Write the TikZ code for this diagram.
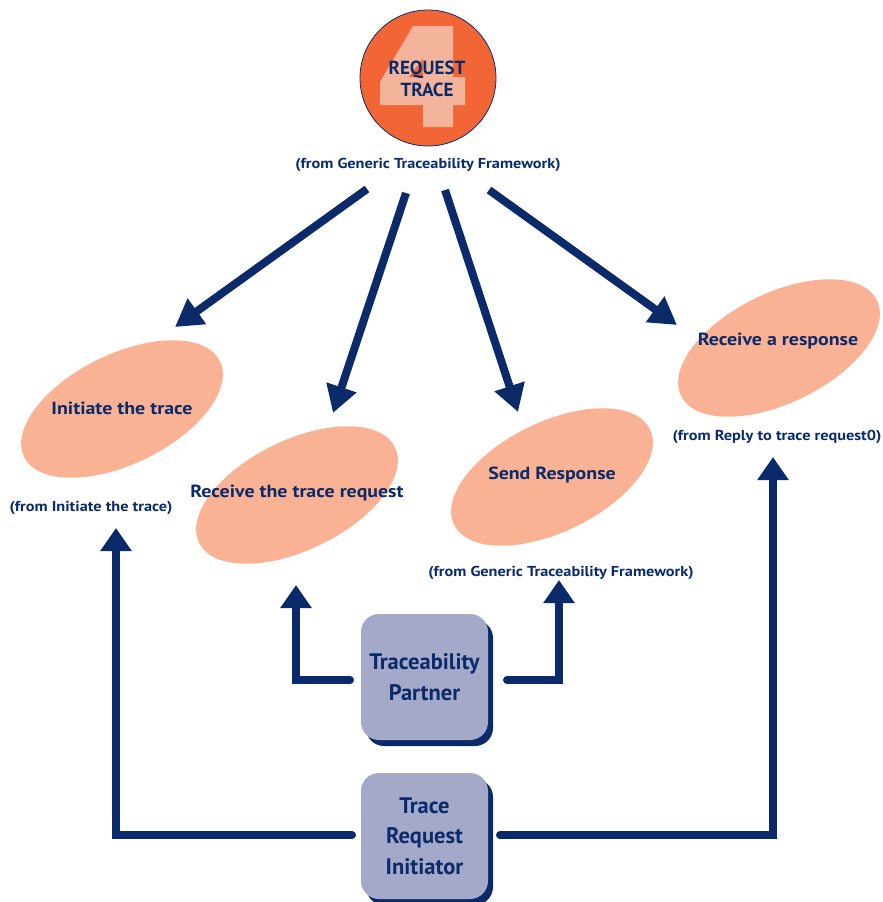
\documentclass[tikz,border=0pt]{standalone}
\usepackage{fontspec}
\setmainfont{PT Sans}
\newfontfamily\widesans{PT Sans}[FakeStretch=1.13]
\usetikzlibrary{arrows.meta,shapes.geometric,shadows}

\definecolor{navy}{HTML}{0A2A6A}
\definecolor{disc}{HTML}{F26535}
\definecolor{digit}{HTML}{F4B39B}
\definecolor{blobfill}{HTML}{F9B394}
\definecolor{actorfill}{HTML}{A4A9C9}

\begin{document}
\begin{tikzpicture}[x=1pt,y=-1pt,
  blob/.style={ellipse, fill=blobfill, draw=none, minimum width=218pt,
    minimum height=110pt, inner sep=0pt, rotate=26},
  blobtext/.style={text=navy, inner sep=0pt,
    font=\widesans\bfseries\fontsize{17.6}{20}\selectfont},
  note/.style={text=navy, inner sep=0pt,
    font=\widesans\bfseries\fontsize{14.4}{16}\selectfont},
  actor/.style={rounded corners=18pt, fill=actorfill, minimum width=127pt,
    minimum height=126pt, inner sep=0pt, text=navy, align=center,
    font=\bfseries\fontsize{22.5}{30.5}\selectfont,
    drop shadow={shadow xshift=5pt, shadow yshift=-6pt, fill=navy, opacity=1}},
  flow/.style={draw=navy, line width=8pt, -{Triangle[width=30pt,length=27pt]}},
  elbow/.style={draw=navy, line width=8pt, line cap=round,
    -{Triangle[width=30pt,length=23pt]}},
]
\useasboundingbox (0,0) rectangle (883,902);

% the numbered disc at the top
\node[circle, fill=disc, draw=navy, line width=0.8pt, minimum size=136pt,
  inner sep=0pt] (disc) at (428,78) {};
\fill[digit, even odd rule]
  (413,26) -- (453,26) -- (453,77) -- (465,77) -- (465,105) -- (453,105)
  -- (453,127) -- (423,127) -- (423,105) -- (380,105) -- (380,82) -- cycle
  (423,58) -- (423,77) -- (409,77) -- cycle;
\node[text=navy, align=center, inner sep=0pt,
  font=\bfseries\fontsize{19}{22}\selectfont] (title) at (427,79)
  {REQUEST\\TRACE};
\node[note] (src) at (428,165) {(from Generic Traceability Framework)};

% use cases
\node[blob] (e1) at (122,409) {};
\node[blob] (e2) at (297,495) {};
\node[blob] (e3) at (552,477) {};
\node[blob] (e4) at (779,348) {};
\node[blobtext] (t1) at (122,408) {Initiate the trace};
\node[blobtext] (t2) at (297,493) {Receive the trace request};
\node[blobtext] (t3) at (552,475) {Send Response};
\node[blobtext] (t4) at (778,341) {Receive a response};

\node[note] (n1) at (91,508) {(from Initiate the trace)};
\node[note] (n3) at (561,573) {(from Generic Traceability Framework)};
\node[note] (n4) at (777,437) {(from Reply to trace request0)};

% actors
\node[actor] (partner) at (424.5,677) {Traceability\\Partner};
\node[actor] (initiator) at (424.5,836) {Trace\\Request\\Initiator};

% arrows from the framework
\coordinate (s1) at (367,189);
\coordinate (s2) at (406,193);
\coordinate (s3) at (445,190);
\coordinate (s4) at (489,190);
\coordinate (h1) at (175,327);
\coordinate (h2) at (333,413);
\coordinate (h3) at (518,412);
\coordinate (h4) at (677,325);
\draw[flow] (s1) -- (h1);
\draw[flow] (s2) -- (h2);
\draw[flow] (s3) -- (h3);
\draw[flow] (s4) -- (h4);

% arrows from the actors
\coordinate (pL) at (350,680);
\coordinate (pR) at (507,680);
\coordinate (iL) at (352,835);
\coordinate (iR) at (500,835);
\coordinate (u2) at (296,585);
\coordinate (u3) at (559,580);
\coordinate (u1) at (116,528);
\coordinate (u4) at (773,457);
\draw[elbow] (pL) -| (u2);
\draw[elbow] (pR) -| (u3);
\draw[elbow] (iL) -| (u1);
\draw[elbow] (iR) -| (u4);
\end{tikzpicture}
\end{document}
